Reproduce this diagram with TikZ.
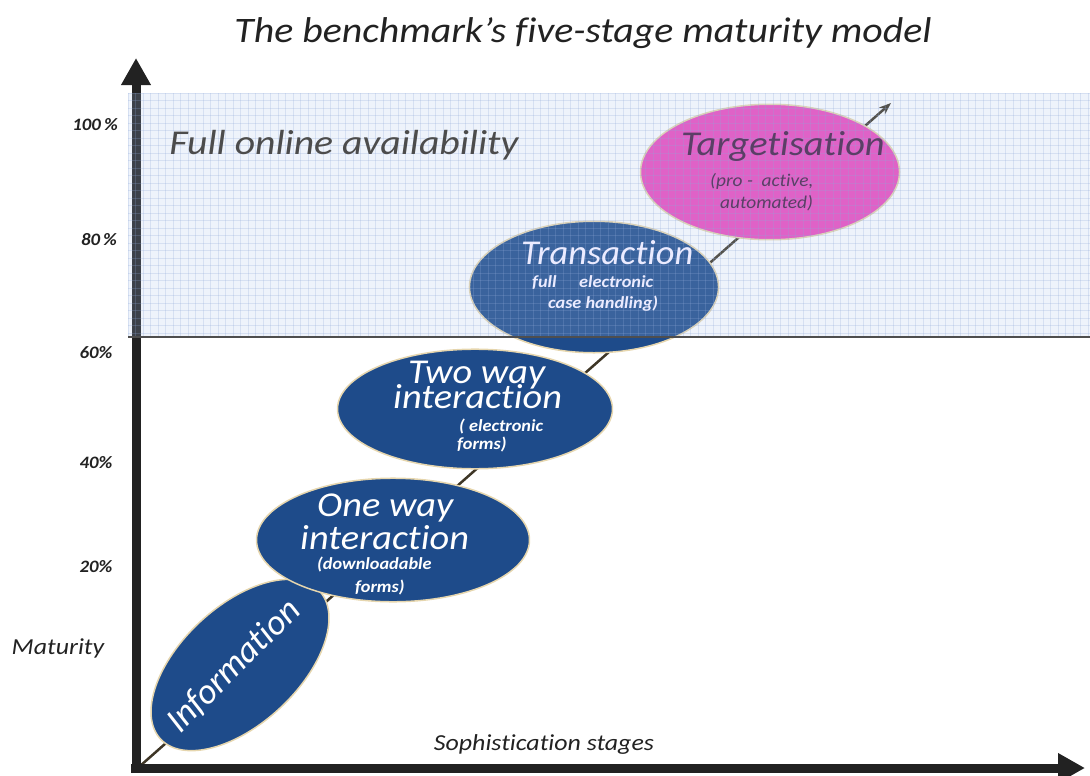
\documentclass[tikz,border=0pt]{standalone}
\usepackage{fontspec}
\setmainfont{Carlito}[Ligatures=NoCommon]
\usetikzlibrary{arrows.meta,shapes.geometric}
\definecolor{navy}{HTML}{1E4B8A}
\definecolor{tanline}{HTML}{E6D6AE}
\definecolor{magentafill}{HTML}{ED4ABF}
\definecolor{gridbase}{HTML}{AAC3EB}
\definecolor{gridline}{HTML}{8FA8D8}
\definecolor{axisgrey}{HTML}{222222}
\definecolor{diagline}{HTML}{3E3626}
\definecolor{targettext}{HTML}{5A3F66}
\begin{document}
\begin{tikzpicture}[x=1bp,y=-1bp,
  stage/.style={ellipse, draw=tanline, line width=1.5bp, fill=navy, inner sep=0pt},
  bigtext/.style={font=\fontsize{35}{35}\selectfont\itshape, text=white, inner sep=0pt, xscale=1.1, anchor=base west},
  smalltext/.style={font=\fontsize{17}{17}\selectfont\bfseries\itshape, text=white, inner sep=0pt, xscale=1.08, anchor=base west},
  ylab/.style={font=\fontsize{17.5}{17.5}\selectfont\bfseries\itshape, text=axisgrey, inner sep=0pt, xscale=1.08},
  plainlab/.style={font=\fontsize{23}{23}\selectfont\itshape, text=axisgrey, inner sep=0pt, xscale=1.13},
  axis/.style={line width=9bp, draw=axisgrey, -{Triangle[length=27bp,width=28bp]}}
]
\useasboundingbox (0,0) rectangle (1090,776);

% axes coordinates
\coordinate (ybot) at (136,773);
\coordinate (ytop) at (136,58);
\coordinate (xleft) at (131,768);
\coordinate (xright) at (1085,768);
\coordinate (dstart) at (140,766);
\coordinate (dend) at (891,103);
\coordinate (hl) at (128,337);
\coordinate (hr) at (1090,337);

% diagonal line
\draw[diagline, line width=2.5bp, -{Stealth[length=12bp,width=9bp]}] (dstart) -- (dend);

% axes
\draw[axis] (ybot) -- (ytop);
\draw[axis] (xleft) -- (xright);

% stages (ellipses)
\node[stage, minimum width=218, minimum height=118, rotate=43] (info) at (240,665) {};
\node[stage, minimum width=274, minimum height=124] (oneway) at (393,540) {};
\node[stage, minimum width=276, minimum height=120] (twoway) at (475,409) {};
\node[stage, minimum width=250, minimum height=132] (trans) at (594,287) {};
\node[stage, fill=magentafill, minimum width=260, minimum height=136] (target) at (770,172) {};

% grid overlay of the full availability zone
\begin{scope}
  \clip (128,93) rectangle (1090,337);
  \fill[gridbase, opacity=0.2] (128,93) rectangle (1090,337);
  \foreach \i in {0,...,129} {
    \draw[gridline, opacity=0.25, line width=0.7bp] (128+\i*7.5,93) -- ++(0,244);
  }
  \foreach \j in {0,...,33} {
    \draw[gridline, opacity=0.25, line width=0.7bp] (128,93+\j*7.5) -- ++(962,0);
  }
\end{scope}
\draw[draw=axisgrey!80, line width=1.3bp] (hl) -- (hr);

% title
\node[font=\fontsize{36}{36}\selectfont\itshape, text=axisgrey, inner sep=0pt, xscale=1.11] (title) at (583,33) {The benchmark’s five-stage maturity model};

% zone label
\node[font=\fontsize{35}{35}\selectfont\itshape, text=black!70, inner sep=0pt, xscale=1.14] (full) at (344,145) {Full online availability};

% y labels
\node[ylab] (l100) at (95,125) {100\,\%};
\node[ylab] (l80) at (99,240) {80\,\%};
\node[ylab] (l60) at (96,353) {60\%};
\node[ylab] (l40) at (96,463) {40\%};
\node[ylab] (l20) at (96,567) {20\%};
\node[plainlab] (maturity) at (58,648) {Maturity};
\node[plainlab] (soph) at (544,745) {Sophistication stages};

% stage texts
\node[font=\fontsize{36}{36}\selectfont\itshape, text=white, inner sep=0pt, rotate=45] (infot) at (234,666) {Information};

\node[bigtext] (onewayA) at (317,516) {One way};
\node[bigtext] (onewayB) at (300,549) {interaction};
\node[smalltext] (onewayC) at (317,569) {(downloadable};
\node[smalltext] (onewayD) at (355,592) {forms)};

\node[bigtext] (twowayA) at (408,383) {Two way};
\node[bigtext] (twowayB) at (393,408) {interaction};
\node[smalltext] (twowayC) at (459,431) {( electronic};
\node[smalltext] (twowayD) at (457,449) {forms)};

\node[bigtext, text=white!92!blue, xscale=0.95] (transA) at (521,264) {Transaction};
\node[smalltext, text=white!92!blue] (transB) at (532,287) {full\quad\ electronic};
\node[smalltext, text=white!92!blue] (transC) at (548,308) {case handling)};

\node[bigtext, text=targettext] (targetA) at (681,155) {Targetisation};
\node[smalltext, font=\fontsize{18}{18}\selectfont\itshape, text=targettext] (targetB) at (710,186) {(pro -\ \ active,};
\node[smalltext, font=\fontsize{18}{18}\selectfont\itshape, text=targettext] (targetC) at (720,208) {automated)};
\end{tikzpicture}
\end{document}
